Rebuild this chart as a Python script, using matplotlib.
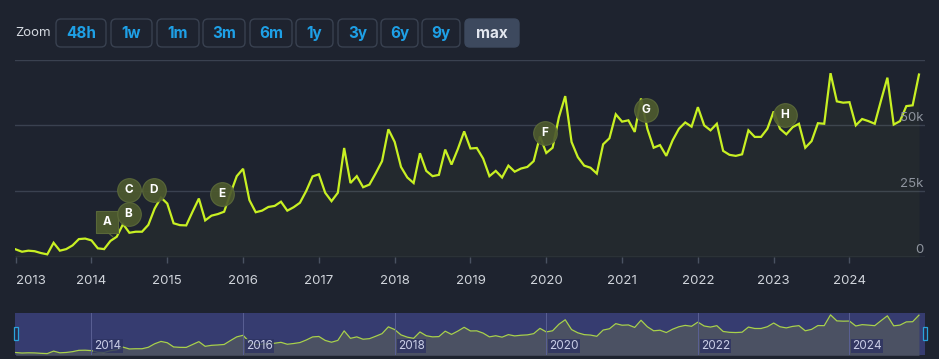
import numpy as np
import matplotlib
matplotlib.use("Agg")
import matplotlib.pyplot as plt
from matplotlib.patches import FancyBboxPatch, Rectangle

plt.rcParams['font.family'] = ['Inter', 'DejaVu Sans']

# monthly peak players, thousands (Jan 2013 .. Dec 2024)
players = [
    2.9, 2.0, 2.4, 2.2, 1.5, 1.0, 5.4, 2.4, 3.0, 4.4, 6.8, 7.0,
    6.3, 3.3, 3.0, 6.1, 7.7, 12.5, 9.2, 9.6, 9.6, 12.2, 18.4, 22.6,
    20.3, 12.8, 12.1, 12.0, 17.2, 22.2, 13.9, 15.7, 16.3, 17.2, 24.1, 30.7,
    33.5, 21.6, 17.0, 17.6, 19.0, 19.4, 21.0, 17.6, 18.9, 20.6, 25.1, 30.6,
    31.4, 24.4, 21.2, 24.4, 41.4, 28.1, 30.7, 26.5, 27.5, 31.8, 36.4, 48.5,
    43.7, 34.2, 30.2, 28.1, 39.4, 32.7, 30.7, 31.2, 40.8, 35.1, 41.0, 47.7,
    41.2, 41.4, 37.4, 30.7, 32.7, 30.2, 34.7, 32.4, 33.6, 34.2, 36.4, 45.8,
    39.5, 41.5, 53.1, 61.1, 43.7, 37.9, 34.7, 33.9, 31.7, 42.8, 45.1, 54.2,
    51.4, 51.9, 47.5, 60.2, 48.7, 41.5, 42.5, 38.4, 44.3, 48.7, 51.1, 49.5,
    56.9, 50.0, 48.1, 50.6, 40.3, 38.8, 38.4, 39.0, 48.1, 45.6, 45.6, 48.7,
    55.3, 48.7, 46.6, 49.3, 50.6, 41.5, 44.0, 50.8, 50.6, 69.8, 59.1, 58.6,
    58.8, 50.0, 52.4, 51.6, 50.6, 59.5, 68.1, 50.3, 51.6, 57.3, 57.6, 69.3,
]
start_year = 2013
years = list(range(2013, 2025))
nav_years = [2014, 2016, 2018, 2020, 2022, 2024]
y_ticks = [0, 25000, 50000, 75000]
y_labels = ['0', '25k', '50k', '']
zoom_buttons = ['48h', '1w', '1m', '3m', '6m', '1y', '3y', '6y', '9y', 'max']

# event flags: label, decimal year, value
flag_labels = ['A', 'B', 'C', 'D', 'E', 'F', 'G', 'H']
flag_x = [2014.21, 2014.49, 2014.49, 2014.82, 2015.72, 2019.98, 2021.32, 2023.15]
flag_y = [13300, 16200, 25400, 25600, 24100, 46900, 55900, 53800]

t = start_year + np.arange(len(players)) / 12
vals = np.array(players) * 1000

W, H = 939, 359
BG = '#1e232f'
LINE = '#c8f023'
GRID = '#3a4150'

fig = plt.figure(figsize=(W / 100, H / 100), dpi=100, facecolor=BG)

def rect(x0, y0, x1, y1):
    return [x0 / W, 1 - y1 / H, (x1 - x0) / W, (y1 - y0) / H]

# overlay in pixel coords for the zoom bar
ov = fig.add_axes([0, 0, 1, 1], zorder=0)
ov.set_xlim(0, W)
ov.set_ylim(H, 0)
ov.axis('off')
ov.text(15, 33, 'Zoom', color='#d5d9e0', fontsize=9.5, va='center', ha='left')
btn_x = [(56, 106), (111, 152), (157, 199), (203, 245), (250, 292),
         (296, 333), (338, 377), (381, 418), (422, 460), (465, 519)]
for lab, (x0, x1) in zip(zoom_buttons, btn_x):
    active = lab == 'max'
    ov.add_patch(FancyBboxPatch((x0, 19), x1 - x0, 28,
                                boxstyle='round,pad=0,rounding_size=5',
                                facecolor='#3d495e' if active else BG,
                                edgecolor='#3d495e' if active else '#394150',
                                lw=1))
    ov.text((x0 + x1) / 2, 33.5, lab, ha='center', va='center',
            fontsize=11, fontweight='bold',
            color='#e2e6ee' if active else '#1ea0e6')

# main chart
xl = (2012.991, 2012.991 + 910 / 75.8)
ax = fig.add_axes(rect(15, 59.5, 925, 257), zorder=1)
ax.set_facecolor('none')
ax.plot(t, vals, color=LINE, lw=1.6, zorder=3, solid_joinstyle='miter')
ax.fill_between(t, vals, 0, color=LINE, alpha=0.03, lw=0, zorder=2)
ax.set_xlim(*xl)
ax.set_ylim(0, 75000)
for v in y_ticks:
    ax.axhline(v, color=GRID if v else '#4a5262', lw=1, zorder=1)
for v, lab in zip(y_ticks, y_labels):
    ax.annotate(lab, (1, v), xycoords=('axes fraction', 'data'),
                xytext=(-1, 0.8), textcoords='offset points',
                ha='right', va='bottom', color='#8e949e', fontsize=9.5, zorder=5)
for s in ax.spines.values():
    s.set_visible(False)
ax.set_yticks([])
ax.set_xticks(years)
ax.set_xticklabels([str(y) for y in years])
ax.tick_params(axis='x', colors='#4a5262', length=4, width=1, pad=9,
               labelcolor='#d0d4db', labelsize=9.5)
ax.get_xticklabels()[0].set_ha('left')

# flags
for lab, fx, fy in zip(flag_labels, flag_x, flag_y):
    if lab == 'A':
        ax.plot([fx - 0.02, fx + 0.07], [fy - 3300, fy - 5600], color='#5c6a3a', lw=0.8, zorder=3)
        ax.scatter([fx], [fy], marker='s', s=250, color='#4d5a2e', edgecolor='#5c6a3a',
                   lw=0.8, zorder=4, alpha=0.95)
    else:
        ax.scatter([fx], [fy], marker='o', s=290, color='#4d5a2e', edgecolor='#5c6a3a',
                   lw=0.8, zorder=4, alpha=0.92)
    ax.text(fx, fy, lab, ha='center', va='center', color='white',
            fontsize=8.5, fontweight='bold', zorder=5)

# navigator
nav = fig.add_axes(rect(15, 312.5, 925, 355), zorder=1)
nav.set_facecolor('#363c70')
nav.fill_between(t, vals, -2000, color='#4b5163', lw=0)
nav.plot(t, vals, color='#a9d14a', lw=0.9)
nav.set_xlim(*xl)
nav.set_ylim(-1500, 74000)
for y in nav_years:
    nav.axvline(y, color='#5a6094', lw=0.7)
    nav.text(y + 0.04, 4000, str(y), color='#c9cde6', fontsize=8.5, va='bottom', ha='left',
             bbox=dict(boxstyle='square,pad=0.1', facecolor='#2d3262', edgecolor='none', alpha=0.8))
nav.set_xticks([])
nav.set_yticks([])
for s in nav.spines.values():
    s.set_visible(False)

for hx in (14, 923):
    ov.add_patch(Rectangle((hx, 327), 4, 13, facecolor='#252b48',
                           edgecolor='#2aa3dc', lw=0.9, zorder=5))
ov.set_zorder(2)
ov.patch.set_visible(False)

fig.savefig('out.png', dpi=100, facecolor=BG)
